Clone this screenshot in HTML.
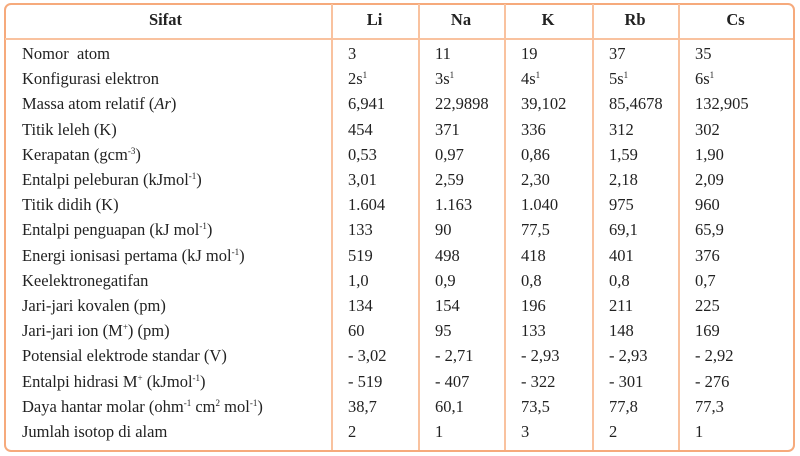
<!DOCTYPE html>
<html><head><meta charset="utf-8"><style>
body{margin:0;width:800px;height:456px;background:#fff;position:relative;overflow:hidden;font-family:"Liberation Serif","DejaVu Serif",serif;color:#222}
.box{position:absolute;left:4px;top:3px;width:787px;height:445px;border:2.5px solid #f6aa7c;border-radius:7px}
.v{position:absolute;top:4px;height:446px;width:2px;background:#f9c29f}
.h{position:absolute;left:5px;width:788px;top:38px;height:2px;background:#f9c29f}
.t{position:absolute;font-size:16.5px;white-space:nowrap;line-height:18px}
.b{font-weight:bold;font-size:16.5px;font-family:"Liberation Serif",serif}
sup{font-size:9px;vertical-align:6px;line-height:0}
</style></head><body>
<div class="box"></div>
<div class="h"></div>
<div class="v" style="left:331px"></div>
<div class="v" style="left:418px"></div>
<div class="v" style="left:504px"></div>
<div class="v" style="left:592px"></div>
<div class="v" style="left:678px"></div>
<div class="t b" style="left:0;width:331px;text-align:center;top:11px">Sifat</div>
<div class="t b" style="left:331px;width:87px;text-align:center;top:11px">Li</div>
<div class="t b" style="left:418px;width:86px;text-align:center;top:11px">Na</div>
<div class="t b" style="left:504px;width:88px;text-align:center;top:11px">K</div>
<div class="t b" style="left:592px;width:86px;text-align:center;top:11px">Rb</div>
<div class="t b" style="left:678px;width:115px;text-align:center;top:11px">Cs</div>
<div id="rows"></div>
<script>
var d=[
["Nomor&nbsp; atom","3","11","19","37","35"],
["Konfigurasi elektron","2s<sup>1</sup>","3s<sup>1</sup>","4s<sup>1</sup>","5s<sup>1</sup>","6s<sup>1</sup>"],
["Massa atom relatif (<i>Ar</i>)","6,941","22,9898","39,102","85,4678","132,905"],
["Titik leleh (K)","454","371","336","312","302"],
["Kerapatan (gcm<sup>-3</sup>)","0,53","0,97","0,86","1,59","1,90"],
["Entalpi peleburan (kJmol<sup>-1</sup>)","3,01","2,59","2,30","2,18","2,09"],
["Titik didih (K)","1.604","1.163","1.040","975","960"],
["Entalpi penguapan (kJ mol<sup>-1</sup>)","133","90","77,5","69,1","65,9"],
["Energi ionisasi pertama (kJ mol<sup>-1</sup>)","519","498","418","401","376"],
["Keelektronegatifan","1,0","0,9","0,8","0,8","0,7"],
["Jari-jari kovalen (pm)","134","154","196","211","225"],
["Jari-jari ion (M<sup>+</sup>) (pm)","60","95","133","148","169"],
["Potensial elektrode standar (V)","- 3,02","- 2,71","- 2,93","- 2,93","- 2,92"],
["Entalpi hidrasi M<sup>+</sup> (kJmol<sup>-1</sup>)","- 519","- 407","- 322","- 301","- 276"],
["Daya hantar molar (ohm<sup>-1</sup> cm<sup>2</sup> mol<sup>-1</sup>)","38,7","60,1","73,5","77,8","77,3"],
["Jumlah isotop di alam","2","1","3","2","1"]];
var xs=[22,348,435,521,609,695],h="";
d.forEach(function(r,i){var y=45+i*25.2;r.forEach(function(c,j){h+='<div class="t" style="left:'+xs[j]+'px;top:'+y+'px">'+c+'</div>';});});
document.getElementById("rows").innerHTML=h;
</script>
</body></html>
